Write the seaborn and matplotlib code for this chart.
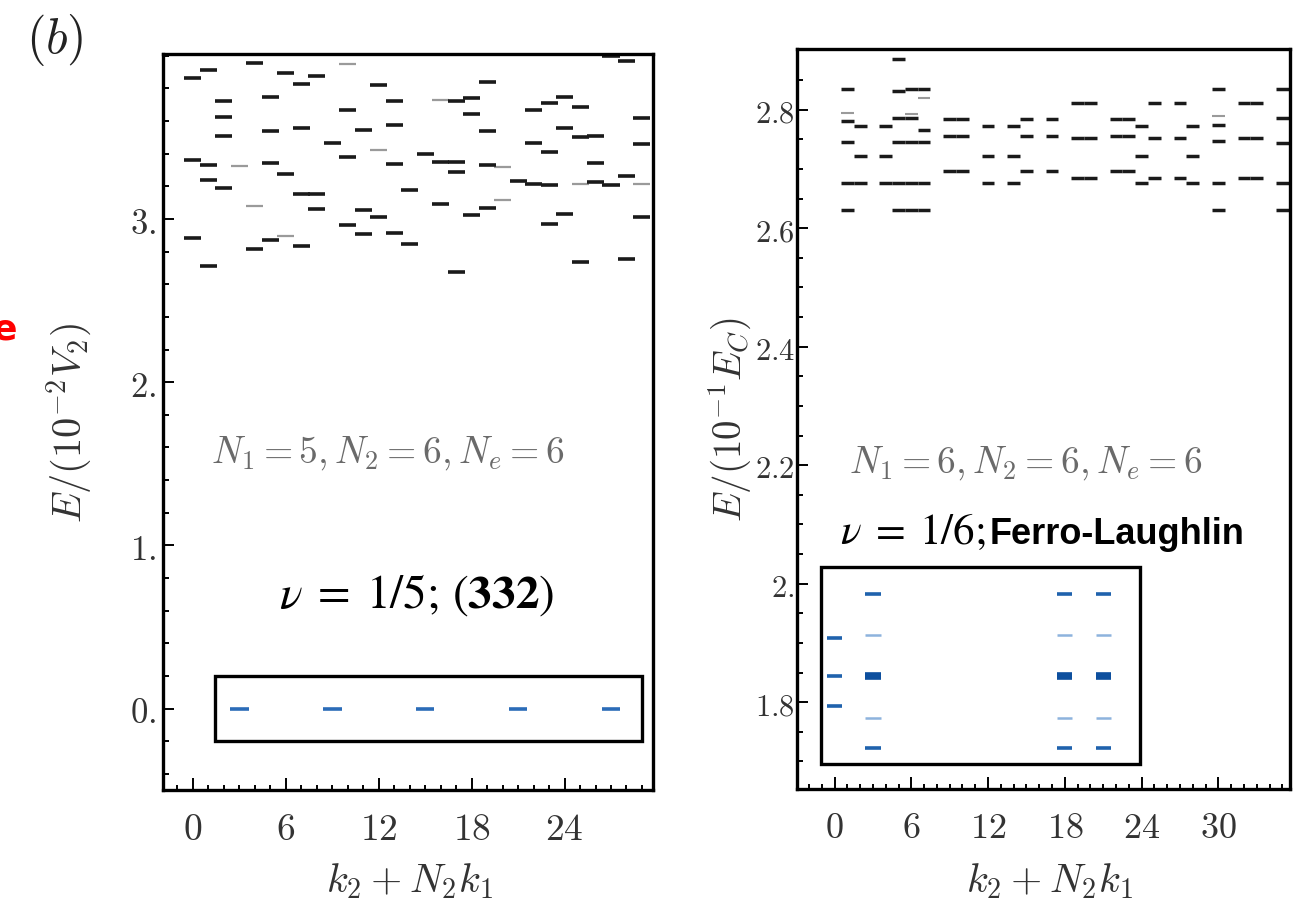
import numpy as np
import pandas as pd
import matplotlib
matplotlib.use("Agg")
import matplotlib.pyplot as plt
from matplotlib.patches import Rectangle
from matplotlib.ticker import MultipleLocator
import seaborn as sns

# ---- left panel: N1=5, N2=6, Ne=6 (energies in 10^-2 V2) ----
left_k = [0, 0, 0,
          1, 1, 1, 1,
          2, 2, 2, 2,
          4, 4,
          5, 5, 5, 5,
          6, 6,
          7, 7, 7, 7,
          8, 8, 8,
          9,
          10, 10, 10,
          11, 11, 11,
          12, 12,
          13, 13, 13, 13,
          14, 14,
          15,
          16, 16,
          17, 17, 17, 17,
          18, 18, 18,
          19, 19, 19, 19,
          21,
          22, 22, 22,
          23, 23, 23, 23,
          24, 24, 24,
          25, 25, 25,
          26, 26, 26,
          27, 27,
          28, 28, 28,
          29, 29, 29]
left_E = [3.864, 3.360, 2.885,
          3.915, 3.333, 3.242, 2.712,
          3.725, 3.625, 3.507, 3.191,
          3.955, 2.818,
          3.747, 3.537, 3.344, 2.869,
          3.894, 3.274,
          3.827, 3.556, 3.156, 2.834,
          3.874, 3.156, 3.062,
          3.466,
          3.670, 3.378, 2.964,
          3.548, 3.054, 2.909,
          3.819, 3.011,
          3.725, 3.576, 3.338, 2.916,
          3.177, 2.850,
          3.399,
          3.348, 3.095,
          3.721, 3.348, 3.287, 2.675,
          3.741, 3.645, 3.022,
          3.837, 3.537, 3.333, 3.066,
          3.232,
          3.670, 3.466, 3.215,
          3.711, 3.411, 3.207, 2.971,
          3.747, 3.556, 3.030,
          3.686, 3.503, 2.738,
          3.507, 3.344, 3.225,
          3.996, 3.207,
          3.966, 3.262, 2.757,
          3.619, 3.462, 3.015]
left_faint_k = [3, 4, 6, 10, 12, 16, 20, 20, 25, 29]
left_faint_E = [3.323, 3.079, 2.899, 3.951, 3.421, 3.731, 3.321, 3.117, 3.215, 3.215]
left_gs_k = [3, 9, 15, 21, 27]
left_gs_E = [0.0, 0.0, 0.0, 0.0, 0.0]

# ---- right panel: N1=6, N2=6, Ne=6 (energies in 10^-1 E_C) ----
right_k = [1, 1, 1, 1, 1,
           2, 2, 2,
           4, 4, 4,
           5, 5, 5, 5, 5, 5,
           6, 6, 6, 6, 6,
           7, 7, 7, 7, 7,
           9, 9, 9,
           10, 10, 10,
           12, 12, 12,
           14, 14, 14,
           15, 15, 15,
           17, 17, 17,
           19, 19, 19,
           20, 20, 20,
           22, 22, 22,
           23, 23, 23,
           24, 24, 24,
           25, 25, 25,
           27, 27, 27,
           28, 28, 28,
           30, 30, 30, 30, 30,
           32, 32, 32,
           33, 33, 33,
           35, 35, 35, 35, 35]
right_E = [2.835, 2.781, 2.746, 2.676, 2.631,
           2.773, 2.722, 2.676,
           2.773, 2.722, 2.676,
           2.886, 2.832, 2.786, 2.746, 2.676, 2.631,
           2.835, 2.786, 2.746, 2.676, 2.631,
           2.835, 2.765, 2.746, 2.676, 2.631,
           2.784, 2.755, 2.697,
           2.784, 2.755, 2.697,
           2.773, 2.722, 2.676,
           2.773, 2.722, 2.676,
           2.784, 2.755, 2.697,
           2.784, 2.755, 2.697,
           2.812, 2.753, 2.684,
           2.812, 2.753, 2.684,
           2.784, 2.756, 2.697,
           2.784, 2.756, 2.697,
           2.773, 2.722, 2.676,
           2.812, 2.753, 2.684,
           2.812, 2.753, 2.684,
           2.773, 2.722, 2.676,
           2.835, 2.774, 2.747, 2.676, 2.631,
           2.812, 2.753, 2.684,
           2.812, 2.753, 2.684,
           2.835, 2.786, 2.744, 2.676, 2.631]
right_faint_k = [1, 6, 7, 30]
right_faint_E = [2.794, 2.793, 2.819, 2.789]
# low-lying (inset) levels
right_gs_k = [0, 0, 0, 3, 3, 18, 18, 21, 21]
right_gs_E = [1.909, 1.844, 1.793, 1.982, 1.723, 1.982, 1.723, 1.982, 1.723]
right_gs_faint_k = [3, 3, 18, 18, 21, 21]
right_gs_faint_E = [1.913, 1.773, 1.913, 1.773, 1.913, 1.773]
right_gs_deg_k = [3, 18, 21]
right_gs_deg_E = [1.844, 1.844, 1.844]

xticks_left = [0, 6, 12, 18, 24]
xticks_right = [0, 6, 12, 18, 24, 30]
yticks_left = [0, 1, 2, 3]
yticks_right = [1.8, 2.0, 2.2, 2.4, 2.6, 2.8]
ylabels_right = ["1.8", "2.", "2.2", "2.4", "2.6", "2.8"]

sns.set_theme(style="white")
plt.rcParams["font.family"] = ["DejaVu Serif"]
plt.rcParams["mathtext.fontset"] = "cm"

TICK_COLOR = "#333333"


def levels(ax, k, E, hw, **kw):
    df = pd.DataFrame({"k": k, "E": E})
    ax.hlines(df["E"], df["k"] - hw, df["k"] + hw, **kw)


def style_axes(ax, xlim, ylim, xmajor, yminor, xsize, ysize, ypad):
    ax.set_xlim(*xlim)
    ax.set_ylim(*ylim)
    for s in ax.spines.values():
        s.set_linewidth(2.4)
        s.set_color("black")
    ax.xaxis.set_minor_locator(MultipleLocator(1))
    ax.yaxis.set_minor_locator(MultipleLocator(yminor))
    ax.tick_params(which="both", direction="in", top=False, right=False,
                   bottom=True, left=True, colors="black",
                   labelcolor=TICK_COLOR, width=1.4)
    ax.tick_params(axis="x", which="major", length=9, pad=15, labelsize=xsize)
    ax.tick_params(axis="x", which="minor", length=3.5)
    ax.tick_params(axis="y", which="major", length=8, pad=ypad, labelsize=ysize)
    ax.tick_params(axis="y", which="minor", length=4.5)
    ax.set_xticks(xmajor, [f"${v}$" for v in xmajor])


fig = plt.figure(figsize=(13.03, 9.2), dpi=100)
axL = fig.add_axes([0.125, 0.140, 0.376, 0.800])
axR = fig.add_axes([0.612, 0.141, 0.378, 0.805])

# ---- left ----
style_axes(axL, (-1.94, 29.7), (-0.5, 4.01), xticks_left, 0.2, 27, 25, 5)
axL.set_yticks(yticks_left, [f"${v}.$" for v in yticks_left])
levels(axL, left_faint_k, left_faint_E, 0.55, colors="#9a9a9a", linewidth=1.6)
levels(axL, left_k, left_E, 0.55, colors="#1a1a1a", linewidth=2.6)
levels(axL, left_gs_k, left_gs_E, 0.6, colors="#2b6cb8", linewidth=2.6)
axL.add_patch(Rectangle((1.4, -0.20), 27.6, 0.40, fill=False,
                        edgecolor="black", linewidth=2.4, zorder=5))
axL.set_xlabel(r"$k_2 + N_2 k_1$", fontsize=29, color=TICK_COLOR)
axL.set_ylabel(r"$E/(10^{-2}V_2)$", fontsize=29, color=TICK_COLOR)
axL.xaxis.set_label_coords(0.504, -0.095)
axL.yaxis.set_label_coords(-0.14, 0.50)
axL.text(12.55, 1.517, r"$N_1 = 5, N_2 = 6, N_e = 6$", fontsize=27,
         color="#6a6a6a", ha="center", va="baseline")
axL.text(14.45, 0.624, r"$\nu\;=\;1/5;\,(\mathbf{332})$", fontsize=34,
         color="black", ha="center", va="baseline", math_fontfamily="stix")

# ---- right ----
style_axes(axR, (-2.9, 35.6), (1.653, 2.903), xticks_right, 0.05, 26, 22, 2)
axR.set_yticks(yticks_right, [f"${v}$" for v in ylabels_right])
levels(axR, right_faint_k, right_faint_E, 0.5, colors="#9a9a9a", linewidth=1.5)
levels(axR, right_k, right_E, 0.5, colors="#1a1a1a", linewidth=2.5)
levels(axR, right_gs_faint_k, right_gs_faint_E, 0.6, colors="#8db3dd", linewidth=1.8)
levels(axR, right_gs_k, right_gs_E, 0.6, colors="#1f62ad", linewidth=2.6)
levels(axR, right_gs_deg_k, right_gs_deg_E, 0.6, colors="#0d4f9e", linewidth=5.5)
axR.add_patch(Rectangle((-1.05, 1.696), 24.95, 0.332, fill=False,
                        edgecolor="black", linewidth=2.4, zorder=5))
axR.set_xlabel(r"$k_2 + N_2 k_1$", fontsize=29, color=TICK_COLOR)
axR.set_ylabel(r"$E/(10^{-1}E_C)$", fontsize=28, color=TICK_COLOR)
axR.xaxis.set_label_coords(0.512, -0.096)
axR.yaxis.set_label_coords(-0.088, 0.50)
axR.text(14.96, 2.19, r"$N_1 = 6, N_2 = 6, N_e = 6$", fontsize=27,
         color="#6a6a6a", ha="center", va="baseline")
axR.text(11.85, 2.068, r"$\nu\;=\;1/6;$", fontsize=31, color="black",
         ha="right", va="baseline", math_fontfamily="stix")
axR.text(12.1, 2.068, "Ferro-Laughlin", fontsize=26, color="black",
         ha="left", va="baseline", fontweight="bold",
         family=["Liberation Sans", "DejaVu Sans"])

fig.text(55 / 1303, 1 - 40 / 920, r"$(b)$", fontsize=36, ha="center",
         va="center", color="#222222")
fig.text(-0.006, 1 - 330 / 920, "e", fontsize=26, fontweight="bold",
         color="red", ha="left", va="center", family=["DejaVu Sans"])

fig.savefig("out.png", dpi=100, facecolor="white")
